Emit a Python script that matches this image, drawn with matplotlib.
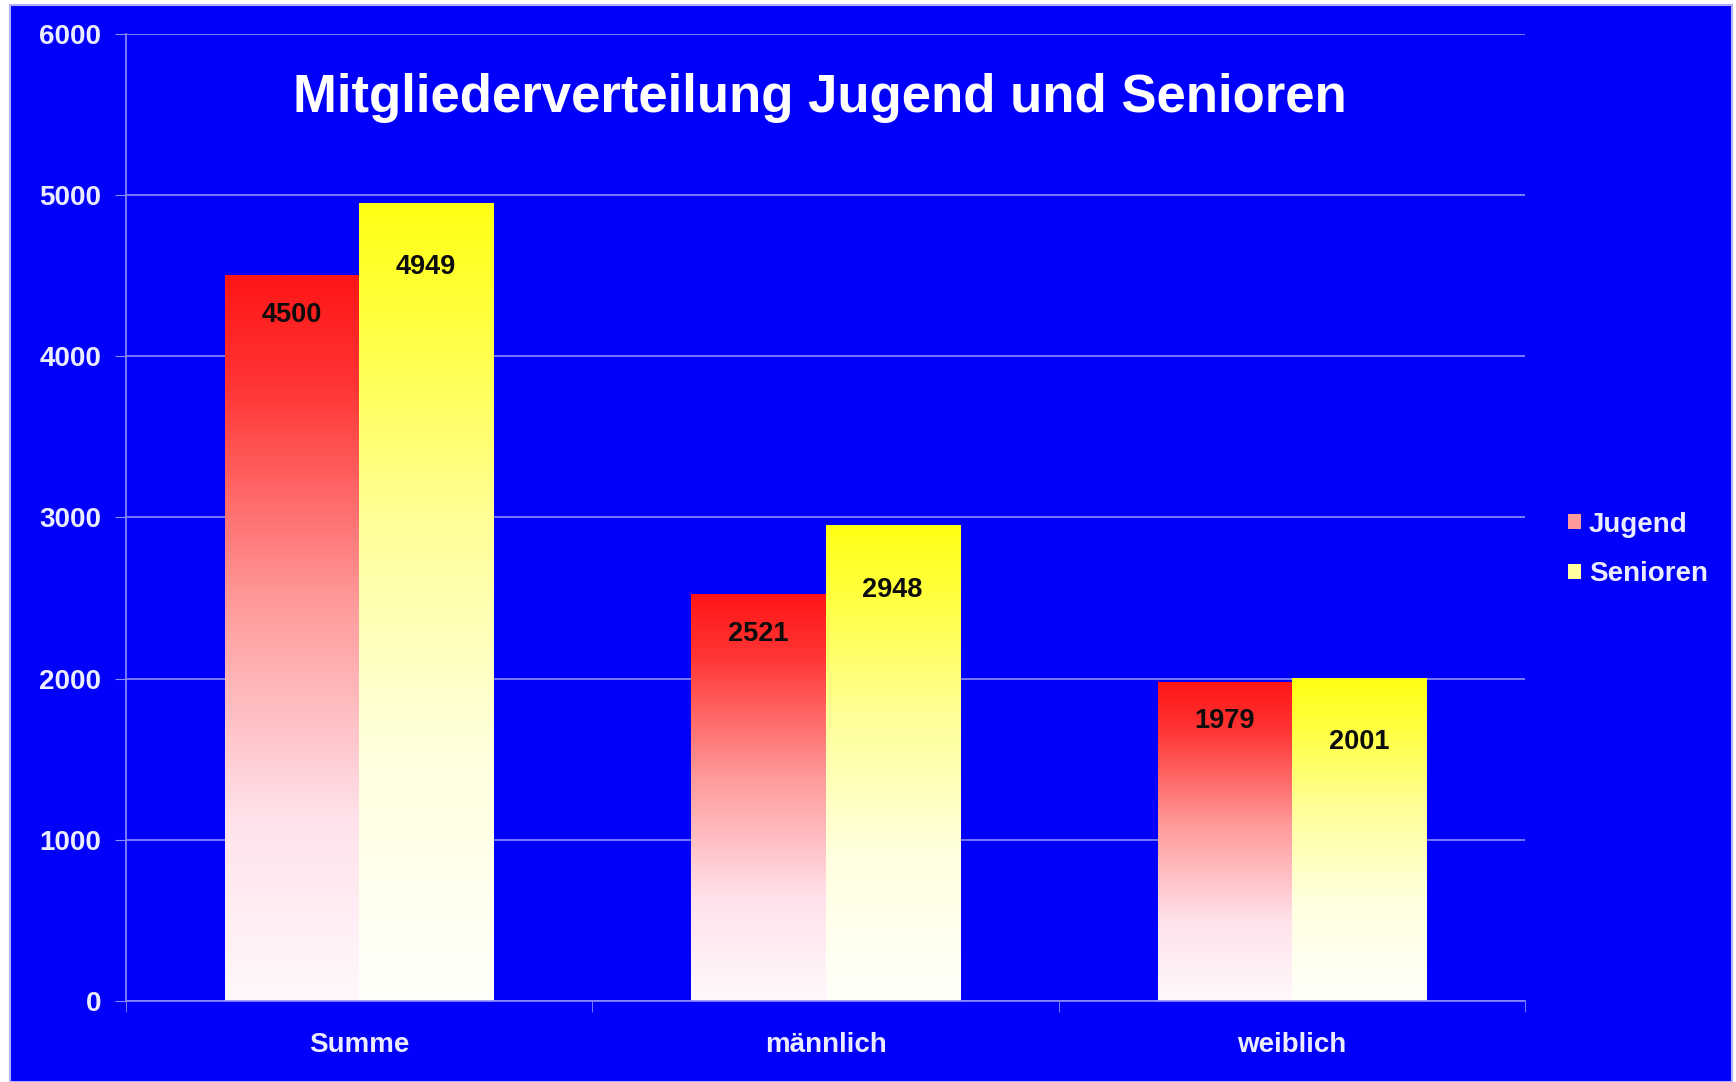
import numpy as np
import matplotlib
matplotlib.use("Agg")
import matplotlib.pyplot as plt
from matplotlib.colors import LinearSegmentedColormap
from matplotlib.patches import Patch, Rectangle

categories = ["Summe", "männlich", "weiblich"]
jugend = [4500, 2521, 1979]
senioren = [4949, 2948, 2001]
series_names = ["Jugend", "Senioren"]
yticks = [0, 1000, 2000, 3000, 4000, 5000, 6000]
title = "Mitgliederverteilung Jugend und Senioren"

plt.rcParams['font.family'] = ['Liberation Sans', 'DejaVu Sans']
blue = '#0000fb'
light = '#ececff'
gridc = '#8c8cff'

red_cmap = LinearSegmentedColormap.from_list(
    "red", [(0, '#fff8fc'), (0.25, '#ffe2ea'), (0.55, '#ff9a9a'),
            (0.85, '#ff3434'), (1, '#ff1616')])
yel_cmap = LinearSegmentedColormap.from_list(
    "yel", [(0, '#fffffa'), (0.3, '#ffffe0'), (0.6, '#ffff98'),
            (0.85, '#ffff40'), (1, '#ffff14')])

fig = plt.figure(figsize=(17.36, 10.82), dpi=100, facecolor='white')
fig.patches.append(Rectangle((10/1736, 0), 1722/1736, 1 - 5/1082,
                             transform=fig.transFigure, facecolor=blue,
                             edgecolor='#b0b0ff', lw=1.5, zorder=-10))
ax = fig.add_axes([0.0726, 0.0749, 0.8059, 0.8937])
ax.set_facecolor(blue)

x = np.arange(len(categories))
w = 0.2875
gradient = np.linspace(0, 1, 256).reshape(-1, 1)
for vals, off, cmap, dy in [(jugend, -w/2, red_cmap, -28), (senioren, w/2, yel_cmap, -46)]:
    bars = ax.bar(x + off, vals, w, color='none', zorder=2)
    for b, v in zip(bars, vals):
        x0 = b.get_x()
        ax.imshow(gradient, cmap=cmap, origin='lower', aspect='auto',
                  extent=[x0, x0 + w, 0, v], zorder=2)
        ax.annotate(str(v), (x0 + w/2, v), xytext=(0, dy), textcoords='offset points',
                    ha='center', va='center', fontsize=19.5, fontweight='bold',
                    color='#0c0c0c', zorder=4)

ax.set_xlim(-0.5, 2.5)
ax.set_ylim(0, 6000)
ax.set_yticks(yticks)
ax.set_yticklabels([str(t) for t in yticks], fontsize=20, fontweight='bold', color=light)
ax.yaxis.grid(True, color=gridc, lw=1.2, zorder=1)
ax.set_axisbelow(True)
ax.tick_params(axis='y', length=8, color=gridc, pad=10)

ax.set_xticks(x)
ax.set_xticklabels(categories, fontsize=20, fontweight='bold', color=light)
ax.set_xticks([-0.5, 0.5, 1.5, 2.5], minor=True)
ax.tick_params(axis='x', which='major', length=0, pad=22)
ax.tick_params(axis='x', which='minor', length=8, color=gridc)

for s in ['top', 'right']:
    ax.spines[s].set_visible(False)
for s in ['left', 'bottom']:
    ax.spines[s].set_color(gridc)
    ax.spines[s].set_linewidth(1.2)

fig.text(0.472, 0.909, title, ha='center', va='center', fontsize=38,
         fontweight='bold', color='white')

handles = [Patch(facecolor='#ff9a9a', edgecolor='none'),
           Patch(facecolor='#ffffa0', edgecolor='none')]
leg = fig.legend(handles, series_names, loc='center left', bbox_to_anchor=(0.889, 0.492),
                 frameon=False, handlelength=0.45, handleheight=0.45, handletextpad=0.3,
                 labelspacing=0.85, prop={'size': 20, 'weight': 'bold'})
for t in leg.get_texts():
    t.set_color(light)

fig.savefig("out.png", dpi=100, facecolor=fig.get_facecolor())
